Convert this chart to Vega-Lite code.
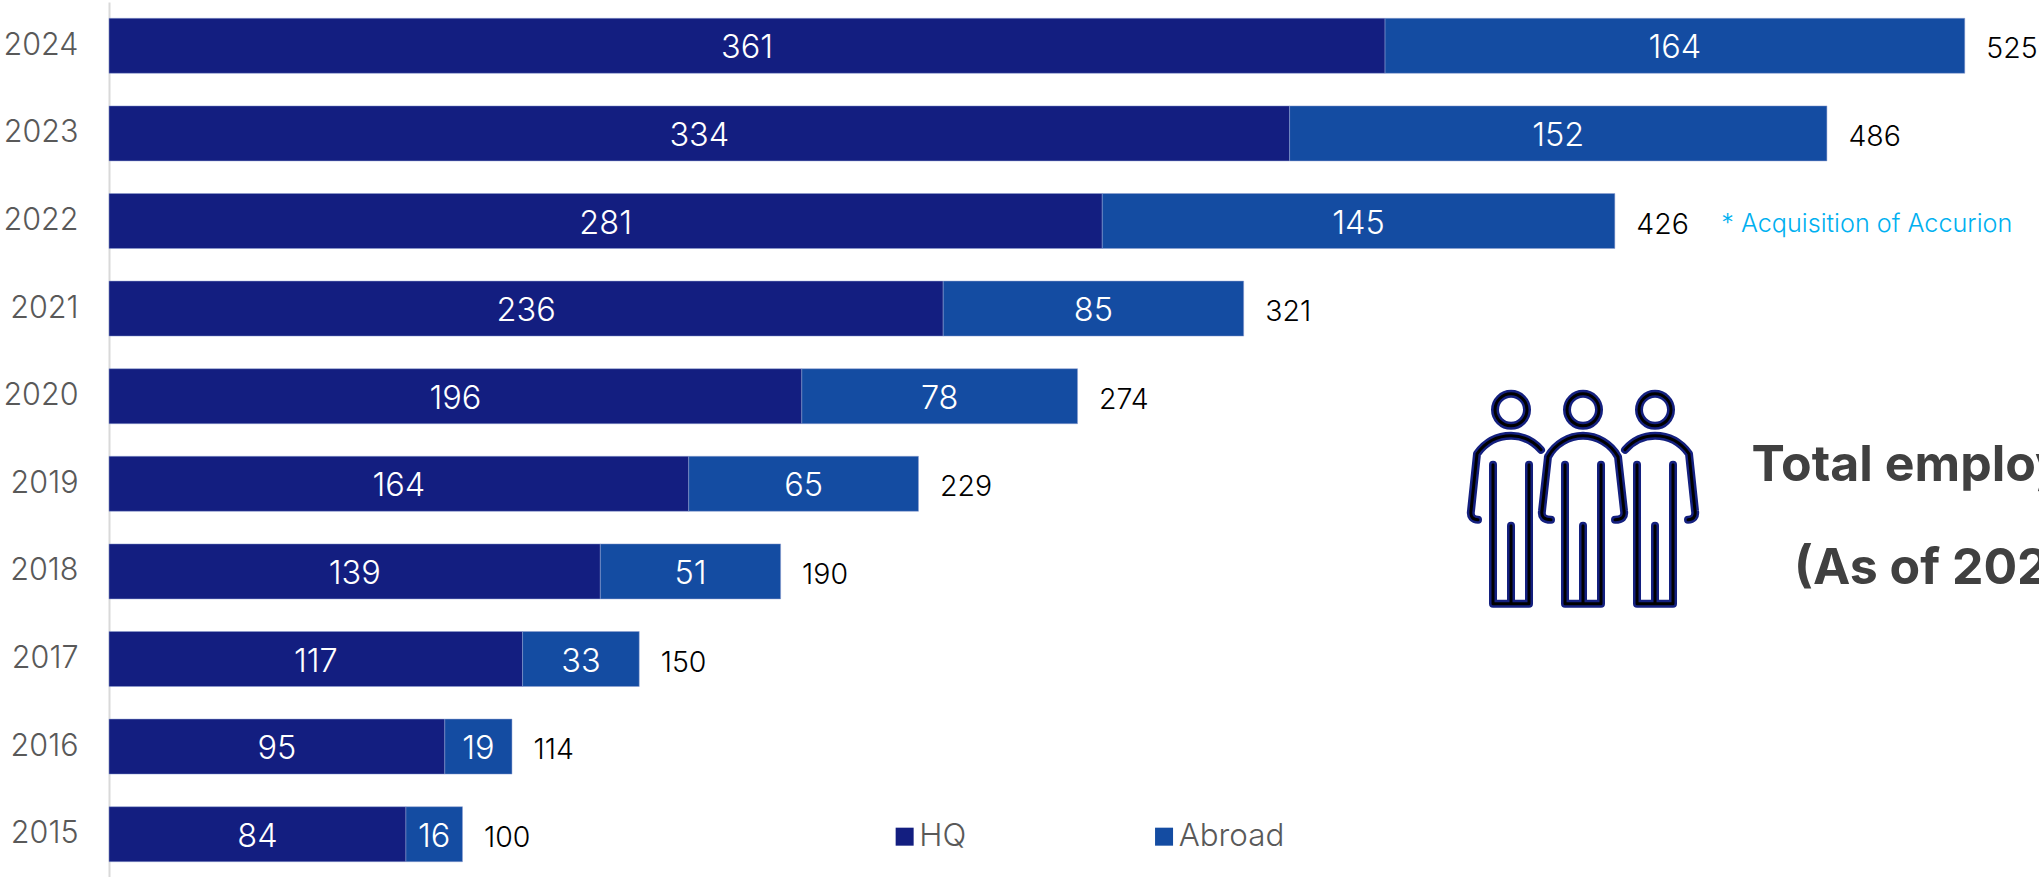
{"$schema":"https://vega.github.io/schema/vega-lite/v6.json","autosize":{"type":"none"},"padding":{"left":109,"top":2,"right":0,"bottom":0},"width":1930,"height":876,"background":"white","config":{"view":{"stroke":null},"font":"Inter"},"datasets":{"parts":[{"year":"2024","series":"HQ","seq":1,"value":361},{"year":"2024","series":"Abroad","seq":2,"value":164},{"year":"2023","series":"HQ","seq":1,"value":334},{"year":"2023","series":"Abroad","seq":2,"value":152},{"year":"2022","series":"HQ","seq":1,"value":281},{"year":"2022","series":"Abroad","seq":2,"value":145},{"year":"2021","series":"HQ","seq":1,"value":236},{"year":"2021","series":"Abroad","seq":2,"value":85},{"year":"2020","series":"HQ","seq":1,"value":196},{"year":"2020","series":"Abroad","seq":2,"value":78},{"year":"2019","series":"HQ","seq":1,"value":164},{"year":"2019","series":"Abroad","seq":2,"value":65},{"year":"2018","series":"HQ","seq":1,"value":139},{"year":"2018","series":"Abroad","seq":2,"value":51},{"year":"2017","series":"HQ","seq":1,"value":117},{"year":"2017","series":"Abroad","seq":2,"value":33},{"year":"2016","series":"HQ","seq":1,"value":95},{"year":"2016","series":"Abroad","seq":2,"value":19},{"year":"2015","series":"HQ","seq":1,"value":84},{"year":"2015","series":"Abroad","seq":2,"value":16}],"totals":[{"year":"2024","total":525},{"year":"2023","total":486},{"year":"2022","total":426},{"year":"2021","total":321},{"year":"2020","total":274},{"year":"2019","total":229},{"year":"2018","total":190},{"year":"2017","total":150},{"year":"2016","total":114},{"year":"2015","total":100}]},"encoding":{"y":{"field":"year","type":"nominal","sort":"descending","title":null,"scale":{"paddingInner":0.372,"paddingOuter":0.186},"axis":{"ticks":false,"domainColor":"#d9d9d9","domainWidth":2,"labelFontSize":30.5,"labelFontWeight":300,"labelColor":"#595959","labelPadding":31,"labelFont":"Inter"}}},"layer":[{"data":{"name":"parts"},"mark":{"type":"bar","stroke":"#8f9fd0","strokeWidth":0.5},"encoding":{"x":{"field":"value","type":"quantitative","stack":"zero","scale":{"domain":[0,546],"nice":false},"axis":null},"order":{"field":"seq","type":"quantitative"},"color":{"field":"series","type":"nominal","scale":{"domain":["HQ","Abroad"],"range":["#131e80","#144ca2"]},"legend":{"title":null,"orient":"none","direction":"horizontal","legendX":780,"legendY":819,"symbolType":"square","symbolSize":324,"symbolStrokeWidth":0,"labelFontSize":31.3,"labelFontWeight":300,"labelColor":"#595959","labelOffset":-1,"columnPadding":181.4,"labelFont":"Inter"}}}},{"data":{"name":"parts"},"mark":{"type":"text","color":"white","fontSize":32.5,"fontWeight":300,"font":"Inter","dy":2.5},"encoding":{"x":{"field":"value","type":"quantitative","stack":"zero","bandPosition":0.5},"order":{"field":"seq","type":"quantitative"},"text":{"field":"value","type":"quantitative"}}},{"data":{"name":"totals"},"mark":{"type":"text","color":"#000000","align":"left","dx":21.5,"dy":3.5,"fontSize":28.5,"fontWeight":350,"font":"Inter"},"encoding":{"x":{"field":"total","type":"quantitative"},"text":{"field":"total","type":"quantitative"}}},{"data":{"values":[{"year":"2022","at":456.1,"note":"* Acquisition of Accurion"}]},"mark":{"type":"text","color":"#00b0f0","align":"left","dy":2.5,"fontSize":25.2,"fontWeight":350,"font":"Inter"},"encoding":{"x":{"field":"at","type":"quantitative"},"text":{"field":"note"}}},{"data":{"values":[{"year":"2019","at":417}]},"mark":{"type":"point","filled":false,"size":4,"stroke":"#14207f","strokeWidth":8,"opacity":1,"strokeCap":"round","strokeJoin":"round","shape":"M-88,-74a16,16 0 1,0 32,0a16,16 0 1,0 -32,0zM16,-74a16,16 0 1,0 -32,0a16,16 0 1,0 32,0zM56,-74a16,16 0 1,0 32,0a16,16 0 1,0 -32,0zM-42,-34C-50,-43 -60,-48 -72,-48C-86,-48 -98,-41 -106,-30L-112,27C-113,33 -110,36 -105,36M-90,-19L-90,120L-54,120L-54,-19M-72,42L-72,120M-35,-27C-28,-40 -14,-48 0,-48C14,-48 28,-40 35,-27L41,27C42,33 39,36 32,36M-35,-27L-41,27C-42,33 -39,36 -32,36M-18,-19L-18,120L18,120L18,-19M0,42L0,120M42,-34C50,-43 60,-48 72,-48C86,-48 98,-41 106,-30L112,27C113,33 110,36 105,36M54,-19L54,120L90,120L90,-19M72,42L72,120"},"encoding":{"x":{"field":"at","type":"quantitative"}}},{"data":{"values":[{"year":"2019","at":417}]},"mark":{"type":"point","filled":false,"size":4,"stroke":"#000000","strokeWidth":3,"opacity":1,"strokeCap":"round","strokeJoin":"round","shape":"M-88,-74a16,16 0 1,0 32,0a16,16 0 1,0 -32,0zM16,-74a16,16 0 1,0 -32,0a16,16 0 1,0 32,0zM56,-74a16,16 0 1,0 32,0a16,16 0 1,0 -32,0zM-42,-34C-50,-43 -60,-48 -72,-48C-86,-48 -98,-41 -106,-30L-112,27C-113,33 -110,36 -105,36M-90,-19L-90,120L-54,120L-54,-19M-72,42L-72,120M-35,-27C-28,-40 -14,-48 0,-48C14,-48 28,-40 35,-27L41,27C42,33 39,36 32,36M-35,-27L-41,27C-42,33 -39,36 -32,36M-18,-19L-18,120L18,120L18,-19M0,42L0,120M42,-34C50,-43 60,-48 72,-48C86,-48 98,-41 106,-30L112,27C113,33 110,36 105,36M54,-19L54,120L90,120L90,-19M72,42L72,120"},"encoding":{"x":{"field":"at","type":"quantitative"}}},{"data":{"values":[{"year":"2019","at":464.7,"line":"Total employees: 525"}]},"mark":{"type":"text","color":"#404040","align":"left","dy":-18,"fontSize":50,"fontWeight":700,"font":"Inter"},"encoding":{"x":{"field":"at","type":"quantitative"},"text":{"field":"line"}}},{"data":{"values":[{"year":"2018","at":476.7,"line":"(As of 2024)"}]},"mark":{"type":"text","color":"#404040","align":"left","dy":-2,"fontSize":50,"fontWeight":700,"font":"Inter"},"encoding":{"x":{"field":"at","type":"quantitative"},"text":{"field":"line"}}}]}
